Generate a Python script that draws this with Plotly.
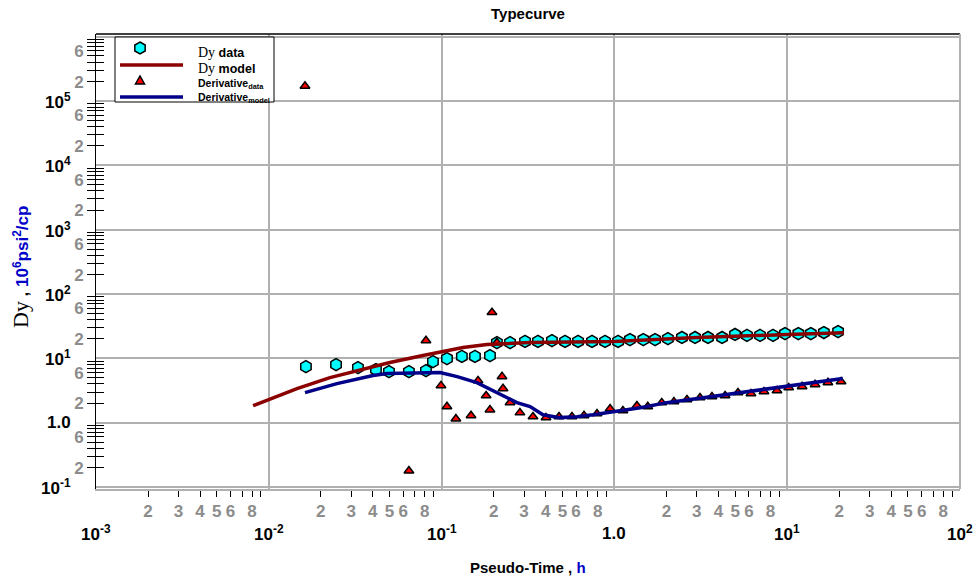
import plotly.graph_objects as go

# ---- measured series -------------------------------------------------------
dy_time = [0.0164, 0.0245, 0.0328, 0.0417, 0.0496, 0.0647, 0.0812, 0.0891,
           0.1074, 0.131, 0.156, 0.1905, 0.209, 0.249, 0.304, 0.361, 0.435,
           0.518, 0.616, 0.742, 0.883, 1.05, 1.23, 1.47, 1.72, 2.04, 2.46,
           2.93, 3.48, 4.20, 4.99, 5.85, 6.96, 8.28, 9.71, 11.6, 13.7, 16.3,
           19.7]
dy_data = [7.45, 8.0, 7.19, 6.70, 6.23, 6.23, 6.46, 8.91,
           9.93, 10.7, 10.7, 11.0, 17.6, 17.6, 18.3, 18.3, 18.9,
           18.3, 18.3, 18.3, 18.3, 18.3, 19.6, 19.6, 19.6, 20.3, 21.1,
           21.1, 21.1, 21.1, 23.5, 22.7, 22.7, 22.7, 24.3, 24.3, 24.3, 25.2,
           26.1]

dy_model_time = [0.00811, 0.01456, 0.0226, 0.0328, 0.0502, 0.078, 0.1005,
                 0.133, 0.183, 0.325, 1.0, 3.0, 10.0, 21.3]
dy_model = [1.84, 3.39, 5.02, 6.46, 8.60, 11.1, 12.8,
            14.7, 16.4, 17.6, 18.3, 21.1, 23.4, 25.0]

der_time = [0.0162, 0.0647, 0.0812, 0.0992, 0.1074, 0.121, 0.148, 0.1625,
            0.181, 0.1905, 0.1957, 0.209, 0.2237, 0.2267, 0.249, 0.284,
            0.338, 0.402, 0.478, 0.568, 0.667, 0.793, 0.944, 1.12, 1.35,
            1.56, 1.88, 2.21, 2.63, 3.13, 3.67, 4.37, 5.19, 6.17, 7.34,
            8.73, 10.2, 12.2, 14.5, 17.2, 20.5]
der_data = [1.7e5, 0.179, 18.9, 3.77, 1.78, 1.15, 1.29, 4.51,
            2.63, 1.59, 51.7, 17.6, 5.21, 3.39, 2.05, 1.43,
            1.24, 1.20, 1.24, 1.24, 1.29, 1.38, 1.65, 1.54, 1.84,
            1.78, 2.05, 2.12, 2.28, 2.45, 2.54, 2.63, 2.93, 2.83, 3.04,
            3.15, 3.51, 3.64, 3.91, 4.20, 4.35]

der_model_time = [0.0162, 0.0248, 0.0401, 0.0483, 0.098, 0.123, 0.160,
                  0.209, 0.273, 0.325, 0.386, 0.484, 0.608, 0.752, 0.982,
                  1.41, 2.01, 4.85, 9.98, 15.5, 21.0]
der_model = [2.93, 4.05, 5.40, 5.80, 6.01, 5.21, 4.20,
             2.93, 2.05, 1.78, 1.33, 1.20, 1.24, 1.33, 1.48,
             1.71, 2.05, 2.83, 3.64, 4.35, 4.85]

# ---- axis decoration -------------------------------------------------------
x_decades = [-3, -2, -1, 0, 1, 2]
y_decades = [-1, 0, 1, 2, 3, 4, 5, 6]
y_labelled_decades = [-1, 0, 1, 2, 3, 4, 5]
minor_digits = [2, 3, 4, 5, 6, 7, 8, 9]
x_labelled_digits = [2, 3, 4, 5, 6, 8]
y_labelled_digits = [2, 6]

X_RANGE = [-3, 2]
Y_RANGE = [-1.03, 6.04]

W, H = 980, 581
ML, MR, MT, MB = 96, 20, 34, 92
PW, PH = W - ML - MR, H - MT - MB


def px_x(px):
    return (px - ML) / PW


def px_y(py):
    return (H - MB - py) / PH


def decade_text(k):
    return "1.0" if k == 0 else f"10<sup>{k}</sup>"


x_tickvals, x_ticktext = [], []
for k in x_decades[:-1]:
    for d in minor_digits:
        x_tickvals.append(d * 10 ** k)
        x_ticktext.append(str(d) if d in x_labelled_digits else "")

y_tickvals, y_ticktext = [], []
for k in y_decades:
    for d in minor_digits:
        v = d * 10 ** k
        if v < 10 ** Y_RANGE[1]:
            y_tickvals.append(v)
            y_ticktext.append(str(d) if d in y_labelled_digits else "")

SANS = "Liberation Sans"
SERIF = "Liberation Serif"
GRID = "#b0b0b0"
LABEL_GRAY = "#8c8c8c"
CYAN = "#00ffff"
RED = "#ff0000"
DARK_RED = "#8b0000"
NAVY = "#000088"
BLUE_TXT = "#0000c8"

fig = go.Figure()

fig.add_trace(go.Scatter(
    x=dy_time, y=dy_data, mode="markers", name="Dy data",
    marker=dict(symbol="hexagon", size=12, color=CYAN,
                line=dict(color="black", width=1.5)),
    showlegend=False))
fig.add_trace(go.Scatter(
    x=der_time, y=der_data, mode="markers", name="Derivative data",
    marker=dict(symbol="triangle-up", size=8.5, color=RED,
                line=dict(color="black", width=1.5)),
    showlegend=False))
fig.add_trace(go.Scatter(
    x=dy_model_time, y=dy_model, mode="lines", name="Dy model",
    line=dict(color=DARK_RED, width=3.5), yaxis="y2", showlegend=False))
fig.add_trace(go.Scatter(
    x=der_model_time, y=der_model, mode="lines", name="Derivative model",
    line=dict(color=NAVY, width=3.5), yaxis="y2", showlegend=False))

axis_font = dict(family=SANS, size=17, color=LABEL_GRAY, weight="bold")

fig.update_layout(
    width=W, height=H,
    margin=dict(l=ML, r=MR, t=MT, b=MB),
    paper_bgcolor="white", plot_bgcolor="white",
    font=dict(family=SANS),
    title=dict(text="Typecurve", x=0.5, xref="paper", y=1 - 14 / H,
               yref="container", xanchor="center", yanchor="middle",
               font=dict(family=SANS, size=15, color="black", weight="bold")),
    xaxis=dict(
        type="log", range=X_RANGE,
        tickmode="array", tickvals=x_tickvals, ticktext=x_ticktext,
        ticks="outside", ticklen=6, tickcolor="black", tickwidth=1,
        tickfont=axis_font, showgrid=False, zeroline=False,
        showline=True, linecolor=GRID, linewidth=2,
        minor=dict(tickmode="array", tickvals=[10 ** k for k in x_decades],
                   ticks="", showgrid=True, gridcolor=GRID, gridwidth=2),
    ),
    yaxis=dict(
        type="log", range=Y_RANGE,
        tickmode="array", tickvals=y_tickvals, ticktext=y_ticktext,
        ticks="outside", ticklen=8, tickcolor="black", tickwidth=1,
        tickfont=axis_font, showgrid=False, zeroline=False,
        showline=True, linecolor="black", linewidth=1,
        ticklabelstandoff=0,
        minor=dict(tickmode="array", tickvals=[10 ** k for k in y_decades],
                   ticks="", showgrid=True, gridcolor=GRID, gridwidth=2),
    ),
    yaxis2=dict(
        type="log", range=Y_RANGE, overlaying="y", side="left",
        tickmode="array", tickvals=y_tickvals, ticktext=[""] * len(y_tickvals),
        ticks="inside", ticklen=8, tickcolor="black", tickwidth=1,
        showticklabels=False, showgrid=False, zeroline=False, showline=False,
    ),
)

shapes = [
    # frame: black top edge, gray right edge
    dict(type="line", xref="paper", yref="paper", x0=0, x1=1, y0=1, y1=1,
         line=dict(color="black", width=1.5)),
    dict(type="line", xref="paper", yref="paper", x0=1, x1=1, y0=0, y1=1,
         line=dict(color=GRID, width=2)),
    # legend box
    dict(type="rect", xref="paper", yref="paper",
         x0=px_x(115), x1=px_x(274), y0=px_y(102), y1=px_y(37),
         fillcolor="white", line=dict(color="black", width=1), layer="above"),
    # legend keys
    dict(type="path", xref="paper", yref="paper", layer="above",
         path="M{},{} L{},{} L{},{} L{},{} L{},{} L{},{} Z".format(
             px_x(140), px_y(42), px_x(145.2), px_y(45), px_x(145.2), px_y(51),
             px_x(140), px_y(54), px_x(134.8), px_y(51), px_x(134.8), px_y(45)),
         fillcolor=CYAN, line=dict(color="black", width=1.5)),
    dict(type="line", xref="paper", yref="paper", layer="above",
         x0=px_x(120), x1=px_x(183), y0=px_y(65), y1=px_y(65),
         line=dict(color=DARK_RED, width=3.5)),
    dict(type="path", xref="paper", yref="paper", layer="above",
         path="M{},{} L{},{} L{},{} Z".format(
             px_x(135.5), px_y(84), px_x(144.5), px_y(84), px_x(140), px_y(76)),
         fillcolor=RED, line=dict(color="black", width=1.5)),
    dict(type="line", xref="paper", yref="paper", layer="above",
         x0=px_x(120), x1=px_x(183), y0=px_y(97), y1=px_y(97),
         line=dict(color=NAVY, width=3.5)),
]
fig.update_layout(shapes=shapes)

ann = []
bold_black = dict(family=SANS, size=17, color="black", weight="bold")
for k in x_decades:
    ann.append(dict(xref="x", yref="paper", x=k, y=px_y(533),
                    text=decade_text(k), showarrow=False,
                    xanchor="center", yanchor="middle", font=bold_black))
for k in y_labelled_decades:
    ann.append(dict(xref="paper", yref="y", x=px_x(73), y=k,
                    text=decade_text(k), showarrow=False,
                    xanchor="right", yanchor="middle", font=bold_black))

ann.append(dict(
    xref="paper", yref="paper", x=0.5, y=px_y(567),
    text=f"Pseudo-Time , <span style='color:{BLUE_TXT}'>h</span>",
    showarrow=False, xanchor="center", yanchor="middle",
    font=dict(family=SANS, size=15, color="black", weight="bold")))

ann.append(dict(
    xref="paper", yref="paper", x=px_x(20), y=px_y(267), textangle=-90,
    text=(f"<span style='font-family:{SERIF};font-weight:normal;font-size:22px'>Dy</span>"
          f" , <span style='color:{BLUE_TXT}'>10<sup>6</sup>psi<sup>2</sup>/cp</span>"),
    showarrow=False, xanchor="center", yanchor="middle",
    font=dict(family=SANS, size=17, color="black", weight="bold")))

legend_rows = [
    (53, f"<span style='font-family:{SERIF};font-weight:normal;font-size:14px'>Dy</span> data", 12.5),
    (69, f"<span style='font-family:{SERIF};font-weight:normal;font-size:14px'>Dy</span> model", 12.5),
    (84, "Derivative<sub>data</sub>", 10.5),
    (98, "Derivative<sub>model</sub>", 10.5),
]
for py, txt, size in legend_rows:
    ann.append(dict(xref="paper", yref="paper", x=px_x(196), y=px_y(py),
                    text=txt, showarrow=False, xanchor="left",
                    yanchor="middle",
                    font=dict(family=SANS, size=size, color="black",
                              weight="bold")))

fig.update_layout(annotations=ann)

fig.write_html("out.html")
